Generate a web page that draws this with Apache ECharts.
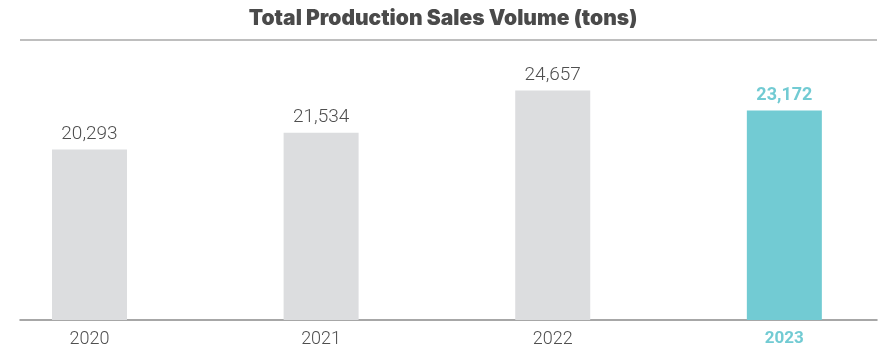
<!DOCTYPE html>
<html>
<head>
<meta charset="utf-8">
<script src="https://cdn.jsdelivr.net/npm/echarts@6/dist/echarts.min.js"></script>
<style>
  html, body { margin: 0; padding: 0; background: #fff; }
  #chart { width: 886px; height: 350px; }
</style>
</head>
<body>
<div id="chart"></div>
<script>
// Annual totals, tons
const years = ['2020', '2021', '2022', '2023'];
const volumes = [20293, 21534, 24657, 23172];
const highlightYear = '2023';

const GREY = '#dcdddf';
const TEAL = '#72cbd3';
const TEXT = '#4f4f4f';

const fmt = v => v.toLocaleString('en-US');

const barData = years.map((y, i) => {
  const hi = y === highlightYear;
  return {
    value: [i, volumes[i]],
    itemStyle: { color: hi ? TEAL : GREY },
    label: hi ? { color: TEAL, fontWeight: 'bold', fontSize: 18 } : {}
  };
});

const chart = echarts.init(document.getElementById('chart'));
chart.setOption({
  animation: false,
  title: {
    text: 'Total Production Sales Volume (tons)',
    left: 'center',
    top: 3,
    textStyle: {
      fontFamily: 'Inter',
      fontWeight: 900,
      fontSize: 21,
      color: '#4a4a4a'
    }
  },
  graphic: [{
    type: 'line',
    shape: { x1: 20, y1: 40, x2: 877, y2: 40 },
    style: { stroke: '#a8a8a8', lineWidth: 1.5 }
  }],
  grid: { left: 20, right: 9, top: 50, bottom: 30 },
  xAxis: {
    type: 'value',
    min: -0.3,
    max: 3.4,
    splitLine: { show: false },
    axisTick: { show: false },
    axisLine: { show: true, lineStyle: { color: '#8a8a8a', width: 1.5 } },
    axisLabel: {
      customValues: [0, 1, 2, 3],
      margin: 10,
      fontFamily: 'Roboto',
      fontWeight: 300,
      fontSize: 18,
      color: TEXT,
      formatter: v => {
        const y = years[Math.round(v)];
        return y === highlightYear ? '{hi|' + y + '}' : y;
      },
      rich: {
        hi: { color: TEAL, fontWeight: 'bold', fontFamily: 'Roboto', fontSize: 17 }
      }
    }
  },
  yAxis: {
    type: 'value',
    min: 7700,
    max: 27650,
    show: false
  },
  series: [{
    type: 'bar',
    barWidth: 75,
    data: barData,
    label: {
      show: true,
      position: 'top',
      distance: 6,
      fontFamily: 'Roboto',
      fontWeight: 300,
      fontSize: 19,
      color: TEXT,
      formatter: p => fmt(p.value[1])
    }
  }]
});
</script>
</body>
</html>
